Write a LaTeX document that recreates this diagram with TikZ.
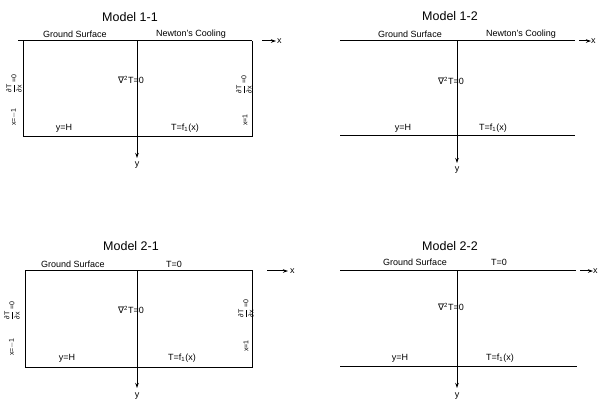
\documentclass[tikz,border=0pt]{standalone}
\usepackage{fontspec}
\usepackage{amsmath}
\setmainfont{Liberation Sans}
\newfontfamily\dejavu{DejaVu Sans}
\usetikzlibrary{arrows.meta}
\tikzset{
  ln/.style={line width=1pt, black},
  axarrow/.style={line width=1pt, -{Stealth[length=5pt,width=3.5pt]}},
  ttl/.style={font=\fontsize{12.5}{14}\selectfont, inner sep=0pt},
  lbl/.style={font=\fontsize{9}{10}\selectfont, inner sep=0pt},
  vlbl/.style={font=\fontsize{7}{8}\selectfont, inner sep=0pt, rotate=90},
}
\newcommand{\dTdx}{$\dfrac{\text{∂T}}{\text{∂x}}$\,=0}
\newcommand{\lapl}{{\dejavu ∇}\textsuperscript{2}T=0}
\newcommand{\fone}{T=f\textsubscript{1}(x)}
\begin{document}
\begin{tikzpicture}[x=1pt,y=-1pt]
\useasboundingbox (0,0) rectangle (598,401);

% ---------------- Model 1-1 ----------------
\node[ttl] (t11) at (130,17) {Model 1-1};
\coordinate (a11tl) at (18,41);
\coordinate (a11l) at (23,41);
\coordinate (a11r) at (252,41);
\coordinate (a11bl) at (23,137);
\coordinate (a11br) at (252,137);
\coordinate (a11o) at (137,41);
\coordinate (a11yend) at (137,158);
\coordinate (a11xs) at (262,41);
\coordinate (a11xe) at (276,41);
\draw[ln] (a11tl) -- (a11r);
\draw[ln] (a11l) -- (a11bl) -- (a11br) -- (a11r);
\draw[axarrow] (a11o) -- (a11yend);
\draw[axarrow] (a11xs) -- (a11xe);
\node[lbl, anchor=west] (x11) at (277,41) {x};
\node[lbl] (y11) at (137,165) {y};
\node[lbl] (gs11) at (75,34) {Ground Surface};
\node[lbl] (nc11) at (191,34) {Newton's Cooling};
\node[lbl] (lap11) at (131,80) {\lapl};
\node[lbl] (yh11) at (64,128) {y=H};
\node[lbl] (f11) at (185,128) {\fone};
\node[vlbl] (dl11) at (14,84) {\dTdx};
\node[vlbl] (xl11) at (14,117) {x=$-$1};
\node[vlbl] (dr11) at (244,85) {\dTdx};
\node[vlbl] (xr11) at (245,120) {x=1};

% ---------------- Model 1-2 ----------------
\node[ttl] (t12) at (450,16) {Model 1-2};
\coordinate (a12l) at (340,41);
\coordinate (a12r) at (575,41);
\coordinate (a12bl) at (340,136);
\coordinate (a12br) at (575,136);
\coordinate (a12o) at (457,41);
\coordinate (a12yend) at (457,163);
\coordinate (a12xs) at (579,41);
\coordinate (a12xe) at (591,41);
\draw[ln] (a12l) -- (a12r);
\draw[ln] (a12bl) -- (a12br);
\draw[axarrow] (a12o) -- (a12yend);
\draw[axarrow] (a12xs) -- (a12xe);
\node[lbl, anchor=west] (x12) at (591,41) {x};
\node[lbl] (y12) at (457,170) {y};
\node[lbl] (gs12) at (410,34) {Ground Surface};
\node[lbl] (nc12) at (521,34) {Newton's Cooling};
\node[lbl] (lap12) at (451,81) {\lapl};
\node[lbl] (yh12) at (403,128) {y=H};
\node[lbl] (f12) at (493,128) {\fone};

% ---------------- Model 2-1 ----------------
\node[ttl] (t21) at (131,246) {Model 2-1};
\coordinate (a21l) at (25,271);
\coordinate (a21r) at (252,271);
\coordinate (a21bl) at (25,367);
\coordinate (a21br) at (252,367);
\coordinate (a21o) at (137,271);
\coordinate (a21yend) at (137,388);
\coordinate (a21xs) at (267,271);
\coordinate (a21xe) at (288,271);
\draw[ln] (a21l) -- (a21r) -- (a21br) -- (a21bl) -- cycle;
\draw[axarrow] (a21o) -- (a21yend);
\draw[axarrow] (a21xs) -- (a21xe);
\node[lbl, anchor=west] (x21) at (290,271) {x};
\node[lbl] (y21) at (137,396) {y};
\node[lbl] (gs21) at (73,264) {Ground Surface};
\node[lbl] (tz21) at (174,264) {T=0};
\node[lbl] (lap21) at (131,310) {\lapl};
\node[lbl] (yh21) at (67,358) {y=H};
\node[lbl] (f21) at (182,358) {\fone};
\node[vlbl] (dl21) at (12,311) {\dTdx};
\node[vlbl] (xl21) at (12,347) {x=$-$1};
\node[vlbl] (dr21) at (246,309) {\dTdx};
\node[vlbl] (xr21) at (246,346) {x=1};

% ---------------- Model 2-2 ----------------
\node[ttl] (t22) at (450,246) {Model 2-2};
\coordinate (a22l) at (340,271);
\coordinate (a22r) at (576,271);
\coordinate (a22bl) at (340,366);
\coordinate (a22br) at (577,366);
\coordinate (a22o) at (457,271);
\coordinate (a22yend) at (457,388);
\coordinate (a22xs) at (580,271);
\coordinate (a22xe) at (593,271);
\draw[ln] (a22l) -- (a22r);
\draw[ln] (a22bl) -- (a22br);
\draw[axarrow] (a22o) -- (a22yend);
\draw[axarrow] (a22xs) -- (a22xe);
\node[lbl, anchor=west] (x22) at (593,271) {x};
\node[lbl] (y22) at (457,396) {y};
\node[lbl] (gs22) at (415,262) {Ground Surface};
\node[lbl] (tz22) at (499,262) {T=0};
\node[lbl] (lap22) at (451,307) {\lapl};
\node[lbl] (yh22) at (400,358) {y=H};
\node[lbl] (f22) at (500,358) {\fone};
\end{tikzpicture}
\end{document}
